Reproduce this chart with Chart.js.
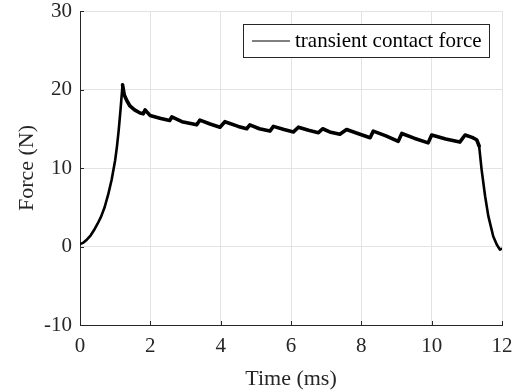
<!DOCTYPE html>
<html>
<head>
<meta charset="utf-8">
<script src="https://cdn.jsdelivr.net/npm/chart.js@4"></script>
<style>
  html, body { margin: 0; padding: 0; background: #ffffff; }
  #wrap { width: 517px; height: 392px; }
</style>
</head>
<body>
<div id="wrap"><canvas id="c" width="517" height="392"></canvas></div>
<script>
// ---- data ----
const timeMs = [0, 0.1, 0.2, 0.3, 0.4, 0.5, 0.6, 0.7, 0.8, 0.9, 1.0, 1.05, 1.1, 1.15, 1.21, 1.26, 1.33, 1.42, 1.55, 1.71, 1.8, 1.85, 1.99, 2.3, 2.55, 2.61, 2.9, 3.32, 3.41, 3.7, 3.98, 4.12, 4.5, 4.74, 4.83, 5.1, 5.4, 5.5, 5.8, 6.07, 6.21, 6.5, 6.78, 6.9, 7.1, 7.39, 7.58, 7.9, 8.25, 8.34, 8.7, 9.05, 9.15, 9.5, 9.9, 10.0, 10.4, 10.8, 10.95, 11.15, 11.28, 11.35, 11.42, 11.52, 11.61, 11.75, 11.85, 11.94, 11.98];
const forceN = [0.3, 0.5, 0.9, 1.4, 2.1, 2.9, 3.8, 5.0, 6.6, 8.5, 11.0, 12.7, 14.8, 17.3, 20.6, 19.3, 18.6, 17.9, 17.4, 17.0, 16.9, 17.4, 16.7, 16.3, 16.05, 16.5, 15.9, 15.5, 16.1, 15.6, 15.2, 15.9, 15.3, 15.0, 15.5, 15.0, 14.7, 15.3, 14.9, 14.6, 15.2, 14.8, 14.5, 15.0, 14.6, 14.3, 14.9, 14.4, 13.85, 14.7, 14.1, 13.4, 14.4, 13.8, 13.2, 14.2, 13.7, 13.3, 14.2, 13.9, 13.6, 12.8, 9.8, 6.4, 3.9, 1.3, 0.25, -0.4, -0.3];
const seriesLabel = "transient contact force";
const xTicks = [0, 2, 4, 6, 8, 10, 12];
const yTicks = [-10, 0, 10, 20, 30];
const xTitle = "Time (ms)";
const yTitle = "Force (N)";

const points = timeMs.map((t, i) => ({ x: t, y: forceN[i] }));
const AXIS = "#262626";
const GRID = "#e3e3e3";
const FONT = "'Liberation Serif', 'Times New Roman', serif";

const innerTicks = {
  id: "innerTicks",
  afterDatasetsDraw(chart) {
    const { ctx, chartArea: a, scales } = chart;
    ctx.save();
    ctx.strokeStyle = AXIS;
    ctx.lineWidth = 1;
    ctx.beginPath();
    xTicks.forEach(v => {
      const px = Math.round(scales.x.getPixelForValue(v)) + 0.5;
      ctx.moveTo(px, a.bottom); ctx.lineTo(px, a.bottom - 4);
    });
    yTicks.forEach(v => {
      const py = Math.round(scales.y.getPixelForValue(v)) + 0.5;
      ctx.moveTo(a.left, py); ctx.lineTo(a.left + 4, py);
    });
    ctx.stroke();
    ctx.restore();
  }
};

const boxLegend = {
  id: "boxLegend",
  afterDraw(chart) {
    const { ctx, chartArea: a } = chart;
    const w = 246, h = 33;
    const x0 = a.right - 13 - w, y0 = a.top + 13;
    ctx.save();
    ctx.fillStyle = "#ffffff";
    ctx.fillRect(x0, y0, w, h);
    ctx.strokeStyle = AXIS;
    ctx.lineWidth = 1;
    ctx.strokeRect(Math.round(x0) + 0.5, Math.round(y0) + 0.5, w, h);
    const cy = y0 + h / 2;
    ctx.strokeStyle = "#000000";
    ctx.beginPath();
    ctx.moveTo(x0 + 9, cy + 0.5); ctx.lineTo(x0 + 47, cy + 0.5);
    ctx.stroke();
    ctx.fillStyle = "#000000";
    ctx.font = "21px " + FONT;
    ctx.textBaseline = "middle";
    ctx.textAlign = "left";
    ctx.fillText(chart.data.datasets[0].label, x0 + 52, cy + 1);
    ctx.restore();
  }
};

new Chart(document.getElementById("c"), {
  type: "line",
  data: {
    datasets: [{
      label: seriesLabel,
      data: points,
      borderColor: "#000000",
      borderWidth: 3.5,
      borderJoinStyle: "round",
      borderCapStyle: "round",
      segment: {
        borderWidth: c => (c.p0.parsed.x < 1.2 || c.p0.parsed.x > 11.3) ? 2.6 : 3.6
      },
      pointRadius: 0,
      tension: 0,
      fill: false
    }]
  },
  options: {
    responsive: false,
    animation: false,
    events: [],
    layout: { padding: { top: 11, right: 15, left: 0, bottom: 0 } },
    plugins: { legend: { display: false }, tooltip: { enabled: false } },
    scales: {
      x: {
        type: "linear",
        min: 0, max: 12,
        afterBuildTicks: s => { s.ticks = xTicks.map(v => ({ value: v })); },
        afterFit: s => { s.height = 67; s.paddingLeft = 0; s.paddingRight = 0; },
        grid: { color: GRID, drawTicks: false },
        border: { color: AXIS, width: 1 },
        ticks: { color: AXIS, font: { family: FONT, size: 21 }, padding: 9, maxRotation: 0 },
        title: { display: true, text: xTitle, color: AXIS, font: { family: FONT, size: 22 }, padding: { top: 0, bottom: 0 } }
      },
      y: {
        type: "linear",
        min: -10, max: 30,
        afterBuildTicks: s => { s.ticks = yTicks.map(v => ({ value: v })); },
        afterFit: s => { s.width = 80; s.paddingTop = 0; s.paddingBottom = 0; },
        grid: { color: GRID, drawTicks: false },
        border: { color: AXIS, width: 1 },
        ticks: { color: AXIS, font: { family: FONT, size: 21 }, padding: 8 },
        title: { display: true, text: yTitle, color: AXIS, font: { family: FONT, size: 22 }, padding: { top: 14, bottom: 0 } }
      }
    }
  },
  plugins: [innerTicks, boxLegend]
});
</script>
</body>
</html>
